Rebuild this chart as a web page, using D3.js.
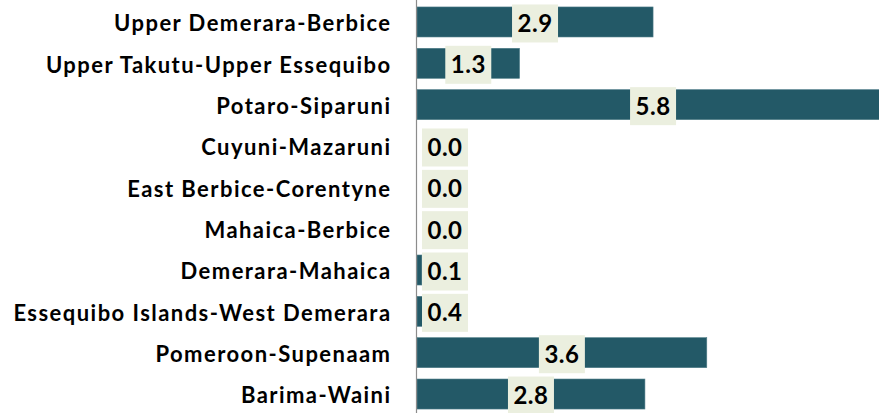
<!DOCTYPE html>
<html>
<head>
<meta charset="utf-8">
<script src="https://cdn.jsdelivr.net/npm/d3@7"></script>
<style>
html,body{margin:0;padding:0;background:#fff;}
svg{display:block;}
</style>
</head>
<body>
<svg id="chart" width="879" height="413"></svg>
<script>
const categories = [
  "Upper Demerara-Berbice",
  "Upper Takutu-Upper Essequibo",
  "Potaro-Siparuni",
  "Cuyuni-Mazaruni",
  "East Berbice-Corentyne",
  "Mahaica-Berbice",
  "Demerara-Mahaica",
  "Essequibo Islands-West Demerara",
  "Pomeroon-Supenaam",
  "Barima-Waini"
];
const values = [2.9, 1.26, 5.8, 0, 0, 0, 0.06, 0.36, 3.56, 2.8];
const labels = ["2.9", "1.3", "5.8", "0.0", "0.0", "0.0", "0.1", "0.4", "3.6", "2.8"];

const W = 879, H = 413;
const x0 = 417;
const svg = d3.select("#chart");
const x = d3.scaleLinear().domain([0, 6]).range([x0, x0 + 6 * 81.4]);
const y = d3.scaleBand().domain(categories).range([1.3, 414.7]).paddingInner(0.274).paddingOuter(0.137);

const data = categories.map((c, i) => ({c, v: values[i], l: labels[i]}));

svg.append("g").selectAll("rect").data(data).enter().append("rect")
  .attr("x", x(0))
  .attr("y", d => y(d.c))
  .attr("width", d => x(d.v) - x(0))
  .attr("height", y.bandwidth())
  .attr("fill", "#235967")
  .attr("stroke", "#4f7d88")
  .attr("stroke-width", 0.6);

// axis line
svg.append("line")
  .attr("x1", 416.5).attr("x2", 416.5)
  .attr("y1", 0).attr("y2", H)
  .attr("stroke", "#8c8c8c").attr("stroke-width", 1.2);

// category labels
svg.append("g").selectAll("text").data(data).enter().append("text")
  .attr("x", 391.5)
  .attr("y", d => y(d.c) + y.bandwidth() / 2)
  .attr("dy", "0.43em")
  .attr("text-anchor", "end")
  .attr("font-family", "Lato, 'Open Sans', sans-serif")
  .attr("font-weight", "bold")
  .attr("font-size", "22px")
  .attr("letter-spacing", "1.45px")
  .attr("fill", "#000")
  .text(d => d.c);

// value labels
const bw = 46, bh = 38;
const lg = svg.append("g").selectAll("g").data(data).enter().append("g")
  .attr("transform", d => {
    let cx = (x(0) + x(d.v)) / 2;
    cx = Math.max(cx, 422 + bw / 2);
    const cy = y(d.c) + y.bandwidth() / 2 + 1.5;
    return `translate(${cx},${cy})`;
  });
lg.append("rect")
  .attr("x", -bw / 2).attr("y", -bh / 2)
  .attr("width", bw).attr("height", bh)
  .attr("fill", "#ebefdf");
lg.append("text")
  .attr("text-anchor", "middle")
  .attr("dy", "0.36em")
  .attr("font-family", "Lato, 'Open Sans', sans-serif")
  .attr("font-weight", "bold")
  .attr("font-size", "24px")
  .attr("letter-spacing", "0.5px")
  .attr("fill", "#000")
  .text(d => d.l);
</script>
</body>
</html>
